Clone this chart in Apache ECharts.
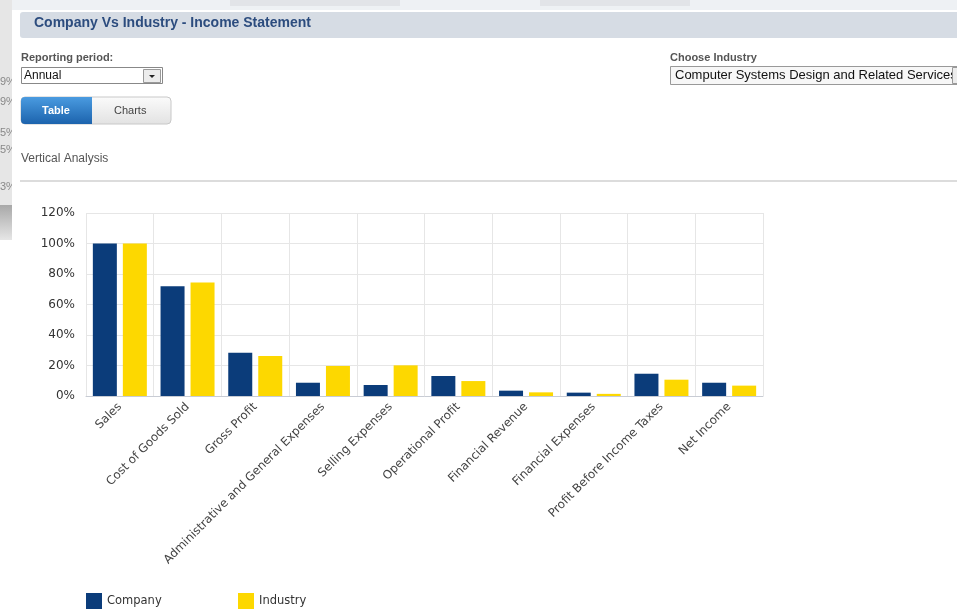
<!DOCTYPE html>
<html>
<head>
<meta charset="utf-8">
<script src="https://cdn.jsdelivr.net/npm/echarts@6/dist/echarts.min.js"></script>
<style>
html,body{margin:0;padding:0;background:#fff;}
#chart{width:957px;height:613px;}
</style>
</head>
<body>
<div id="chart"></div>
<script>
const categories = ["Sales","Cost of Goods Sold","Gross Profit","Administrative and General Expenses","Selling Expenses","Operational Profit","Financial Revenue","Financial Expenses","Profit Before Income Taxes","Net Income"];
const companyValues = [100, 72, 28.4, 8.7, 7.2, 13.1, 3.5, 2.2, 14.6, 8.7];
const industryValues = [100, 74.5, 26.2, 19.7, 20.1, 9.8, 2.4, 1.4, 10.7, 6.8];
const yTicks = [0, 20, 40, 60, 80, 100, 120];
const seriesNames = ["Company", "Industry"];

const chart = echarts.init(document.getElementById('chart'), null, {renderer: 'canvas'});
const uiFont = '"Liberation Sans", Arial, sans-serif';
const chartFont = '"DejaVu Sans", Verdana, sans-serif';

const option = {
  backgroundColor: '#ffffff',
  animation: false,
  grid: {left: 86, right: 194, top: 213, bottom: 217, containLabel: false},
  legend: [
    {data: [seriesNames[0]], left: 86, top: 593, padding: 0, itemWidth: 16, itemHeight: 16, icon: 'rect',
     textStyle: {fontFamily: chartFont, fontSize: 11.5, color: '#333'}},
    {data: [seriesNames[1]], left: 238, top: 593, padding: 0, itemWidth: 16, itemHeight: 16, icon: 'rect',
     textStyle: {fontFamily: chartFont, fontSize: 11.5, color: '#333'}}
  ],
  xAxis: {
    type: 'category',
    data: categories,
    axisLine: {lineStyle: {color: '#c8ccd4'}},
    axisTick: {show: false},
    splitLine: {show: true, lineStyle: {color: '#e6e6e6'}},
    axisLabel: {rotate: 45, interval: 0, margin: 9, fontFamily: chartFont, fontSize: 11.8, color: '#444'}
  },
  yAxis: {
    type: 'value',
    min: yTicks[0], max: yTicks[yTicks.length - 1], interval: yTicks[1] - yTicks[0],
    axisLine: {show: false},
    axisTick: {show: false},
    splitLine: {lineStyle: {color: '#e6e6e6'}},
    axisLabel: {formatter: '{value}%', margin: 11, fontFamily: chartFont, fontSize: 12, color: '#333'}
  },
  series: [
    {name: seriesNames[0], type: 'bar', data: companyValues, barWidth: 24, barGap: '25%', itemStyle: {color: '#0b3c7a'}},
    {name: seriesNames[1], type: 'bar', data: industryValues, barWidth: 24, itemStyle: {color: '#fdd800'}}
  ],
  graphic: [
    {type: 'rect', shape: {x: 0, y: 0, width: 957, height: 10}, style: {fill: '#eef1f4'}, silent: true},
    {type: 'rect', shape: {x: 230, y: 0, width: 170, height: 6}, style: {fill: '#e2e4e8'}, silent: true},
    {type: 'rect', shape: {x: 540, y: 0, width: 150, height: 6}, style: {fill: '#e2e4e8'}, silent: true},
    {type: 'rect', shape: {x: 0, y: 0, width: 12, height: 205}, style: {fill: '#e6e6e6'}, silent: true},
    {type: 'rect', shape: {x: 0, y: 205, width: 12, height: 35},
     style: {fill: new echarts.graphic.LinearGradient(0, 0, 0, 1, [{offset: 0, color: '#a8a8a8'}, {offset: 1, color: '#e6e6e6'}])}, silent: true},
    {type: 'text', left: 0, top: 76, style: {text: '9%', font: '11px ' + uiFont, fill: '#888'}},
    {type: 'text', left: 0, top: 96, style: {text: '9%', font: '11px ' + uiFont, fill: '#888'}},
    {type: 'text', left: 0, top: 127, style: {text: '5%', font: '11px ' + uiFont, fill: '#888'}},
    {type: 'text', left: 0, top: 144, style: {text: '5%', font: '11px ' + uiFont, fill: '#888'}},
    {type: 'text', left: 0, top: 181, style: {text: '3%', font: '11px ' + uiFont, fill: '#888'}},
    {type: 'rect', shape: {x: 12, y: 40, width: 8, height: 165}, style: {fill: '#ffffff'}, silent: true},
    {type: 'rect', shape: {x: 20, y: 12, width: 945, height: 26, r: 3}, style: {fill: '#d6dce4'}, silent: true},
    {type: 'text', left: 34, top: 16, style: {text: 'Company Vs Industry - Income Statement', font: 'bold 14px ' + uiFont, fill: '#2c4c7e'}},
    {type: 'text', left: 21, top: 52, style: {text: 'Reporting period:', font: 'bold 11px ' + uiFont, fill: '#555'}},
    {type: 'rect', shape: {x: 21.5, y: 67.5, width: 141, height: 16}, style: {fill: '#fff', stroke: '#888', lineWidth: 1}, silent: true},
    {type: 'text', left: 24, top: 70, style: {text: 'Annual', font: '12px ' + uiFont, fill: '#111'}},
    {type: 'rect', shape: {x: 143.5, y: 69.5, width: 17, height: 13}, style: {fill: '#ececec', stroke: '#999', lineWidth: 1}, silent: true},
    {type: 'polygon', shape: {points: [[149, 75], [155, 75], [152, 78]]}, style: {fill: '#222'}, silent: true},
    {type: 'rect', shape: {x: 21, y: 97, width: 150, height: 27, r: 4},
     style: {fill: new echarts.graphic.LinearGradient(0, 0, 0, 1, [{offset: 0, color: '#fbfbfb'}, {offset: 1, color: '#e2e2e2'}]), stroke: '#c8c8c8', lineWidth: 1}, silent: true},
    {type: 'rect', shape: {x: 21, y: 97, width: 71, height: 27, r: [4, 0, 0, 4]},
     style: {fill: new echarts.graphic.LinearGradient(0, 0, 0, 1, [{offset: 0, color: '#4a9be0'}, {offset: 1, color: '#1c63ad'}])}, silent: true},
    {type: 'text', left: 42, top: 105, style: {text: 'Table', font: 'bold 11px ' + uiFont, fill: '#fff'}},
    {type: 'text', left: 114, top: 105, style: {text: 'Charts', font: '11px ' + uiFont, fill: '#444'}},
    {type: 'text', left: 21, top: 153, style: {text: 'Vertical Analysis', font: '12px ' + uiFont, fill: '#555'}},
    {type: 'rect', shape: {x: 20, y: 180, width: 937, height: 2}, style: {fill: '#dcdcdc'}, silent: true},
    {type: 'text', left: 670, top: 52, style: {text: 'Choose Industry', font: 'bold 11px ' + uiFont, fill: '#555'}},
    {type: 'rect', shape: {x: 670.5, y: 66.5, width: 300, height: 18}, style: {fill: '#f7f7f7', stroke: '#999', lineWidth: 1}, silent: true},
    {type: 'text', left: 675, top: 69, style: {text: 'Computer Systems Design and Related Services', font: '13px ' + uiFont, fill: '#111'}},
    {type: 'rect', shape: {x: 952.5, y: 67.5, width: 10, height: 16}, style: {fill: '#ececec', stroke: '#999', lineWidth: 1}, silent: true}
  ]
};
chart.setOption(option);
</script>
</body>
</html>
